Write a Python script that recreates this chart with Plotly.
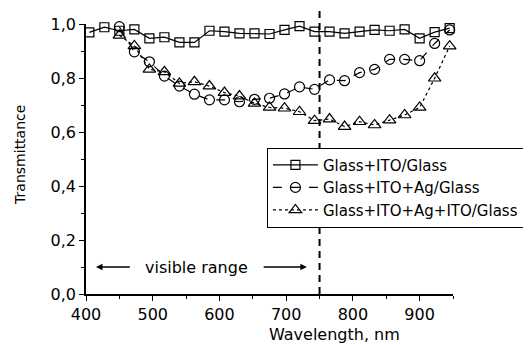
import plotly.graph_objects as go

wavelength = [405, 427.5, 450, 472.5, 495, 517.5, 540, 562.5, 585, 607.5, 630, 652.5,
              675, 697.5, 720, 742.5, 765, 787.5, 810, 832.5, 855, 877.5, 900, 922.5, 945]
wavelength_ag = wavelength[2:]

glass_ito = [0.969, 0.988, 0.975, 0.980, 0.947, 0.951, 0.932, 0.932, 0.975, 0.972, 0.965, 0.965,
             0.963, 0.978, 0.992, 0.972, 0.972, 0.965, 0.972, 0.978, 0.975, 0.980, 0.947, 0.970, 0.985]
glass_ito_ag = [0.990, 0.897, 0.860, 0.807, 0.770, 0.740, 0.719, 0.719, 0.712, 0.721, 0.725, 0.741,
                0.767, 0.758, 0.793, 0.790, 0.820, 0.832, 0.869, 0.869, 0.864, 0.928, 0.978]
glass_ito_ag_ito = [0.958, 0.919, 0.832, 0.823, 0.780, 0.786, 0.770, 0.746, 0.733, 0.706, 0.691, 0.688,
                    0.675, 0.642, 0.648, 0.620, 0.638, 0.626, 0.644, 0.663, 0.691, 0.799, 0.918]

names = ["Glass+ITO/Glass", "Glass+ITO+Ag/Glass", "Glass+ITO+Ag+ITO/Glass"]
FONT = "DejaVu Sans"

fig = go.Figure()
fig.add_trace(go.Scatter(x=wavelength, y=glass_ito, name=names[0], mode="lines+markers",
                         line=dict(color="black", width=1.2, dash="solid"),
                         marker=dict(symbol="square-open", size=9, color="black", line=dict(width=1.2)),
                         cliponaxis=False))
fig.add_trace(go.Scatter(x=wavelength_ag, y=glass_ito_ag, name=names[1], mode="lines+markers",
                         line=dict(color="black", width=1.2, dash="dash"),
                         marker=dict(symbol="circle-open", size=10, color="black", line=dict(width=1.2)),
                         cliponaxis=False))
fig.add_trace(go.Scatter(x=wavelength_ag, y=glass_ito_ag_ito, name=names[2], mode="lines+markers",
                         line=dict(color="black", width=1.2, dash="dot"),
                         marker=dict(symbol="triangle-up-open", size=11, color="black", line=dict(width=1.2)),
                         cliponaxis=False))

fig.add_shape(type="line", x0=750, x1=750, xref="x", y0=0, y1=1.05, yref="paper",
              line=dict(color="black", width=2, dash="7px,5px"))

fig.add_annotation(x=415, y=0.1, ax=468, ay=0.1, xref="x", yref="y", axref="x", ayref="y",
                   text="", showarrow=True, arrowhead=2, arrowsize=1, arrowwidth=1.3, arrowcolor="black")
fig.add_annotation(x=731, y=0.1, ax=664, ay=0.1, xref="x", yref="y", axref="x", ayref="y",
                   text="", showarrow=True, arrowhead=2, arrowsize=1, arrowwidth=1.3, arrowcolor="black")
fig.add_annotation(x=566, y=0.097, xref="x", yref="y", text="visible range", showarrow=False,
                   font=dict(family=FONT, size=16, color="black"))

fig.add_annotation(x=0.678, y=-0.15, xref="paper", yref="paper", text="Wavelength, nm",
                   showarrow=False, xanchor="center", yanchor="middle",
                   font=dict(family=FONT, size=16, color="black"))
fig.add_annotation(x=-0.18, y=0.515, xref="paper", yref="paper", text="Transmittance",
                   showarrow=False, textangle=-90, xanchor="center", yanchor="middle",
                   font=dict(family=FONT, size=14, color="black"))

fig.update_layout(
    width=531, height=345,
    margin=dict(l=78, r=86, t=16, b=59, autoexpand=False),
    paper_bgcolor="white", plot_bgcolor="white",
    separators=", ",
    font=dict(family=FONT, color="black"),
    showlegend=True,
    legend=dict(x=0.493, y=0.542, xanchor="left", yanchor="top",
                bordercolor="black", borderwidth=1, bgcolor="white",
                font=dict(family=FONT, size=15, color="black"),
                tracegroupgap=0, itemwidth=45),
    xaxis=dict(range=[400, 950], tickvals=[400, 500, 600, 700, 800, 900], automargin=False,
               showline=True, linecolor="black", linewidth=1.5, showgrid=False, zeroline=False,
               ticks="outside", ticklen=5, tickwidth=1, tickcolor="black",
               tickfont=dict(family=FONT, size=16, color="black"),
               minor=dict(tickvals=[450, 550, 650, 750, 850, 950], ticks="outside", ticklen=3,
                          tickcolor="black", tickwidth=1)),
    yaxis=dict(range=[0, 1.0], tickvals=[0, 0.2, 0.4, 0.6, 0.8, 1.0], tickformat=".1f", automargin=False,
               showline=True, linecolor="black", linewidth=1.5, showgrid=False, zeroline=False,
               ticks="outside", ticklen=5, tickwidth=1, tickcolor="black",
               tickfont=dict(family=FONT, size=16, color="black"),
               minor=dict(tickvals=[0.1, 0.3, 0.5, 0.7, 0.9], ticks="outside", ticklen=3,
                          tickcolor="black", tickwidth=1)),
)

fig.write_html("out.html")
